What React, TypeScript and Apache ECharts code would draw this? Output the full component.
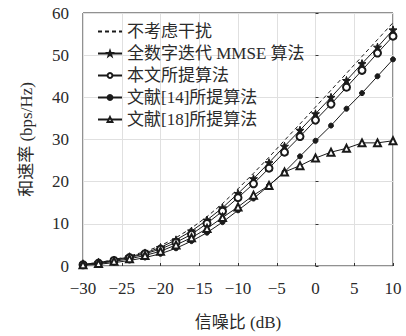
import React, { useEffect, useRef } from "react";
import * as echarts from "echarts";

const snr = [-30, -28, -26, -24, -22, -20, -18, -16, -14, -12, -10, -8, -6, -4, -2, 0, 2, 4, 6, 8, 10];
const noInterference = [0.4, 0.8, 1.5, 2.4, 3.4, 4.8, 6.7, 9.0, 11.7, 14.8, 18.3, 22.0, 25.8, 29.8, 33.7, 37.7, 41.7, 45.7, 49.7, 53.7, 57.7];
const fullDigitalMMSE = [0.4, 0.8, 1.4, 2.2, 3.1, 4.4, 6.2, 8.3, 10.9, 13.8, 17.2, 20.7, 24.5, 28.4, 32.2, 36.1, 40.0, 44.0, 48.0, 51.9, 56.0];
const proposed = [0.3, 0.7, 1.3, 2.0, 2.9, 4.0, 5.6, 7.5, 10.1, 13.0, 16.2, 19.5, 23.2, 27.0, 30.7, 34.6, 38.4, 42.4, 46.4, 50.5, 54.5];
const ref14 = [0.2, 0.4, 0.8, 1.3, 2.0, 2.9, 4.2, 5.9, 7.9, 10.4, 13.2, 16.0, 19.1, 22.3, 26.0, 29.7, 33.3, 37.3, 41.0, 45.0, 49.0];
const ref18 = [0.3, 0.6, 1.1, 1.7, 2.5, 3.5, 5.0, 6.7, 8.9, 11.5, 14.0, 16.8, 19.1, 22.3, 23.8, 25.6, 27.0, 27.9, 29.2, 29.2, 29.7];

const seriesNames = ["不考虑干扰", "全数字迭代 MMSE 算法", "本文所提算法", "文献[14]所提算法", "文献[18]所提算法"];

const FONT = "'Liberation Serif', 'DejaVu Serif', 'Noto Sans CJK SC', serif";
const STAR = "path://M0,-10 L2.35,-3.24 L9.51,-3.09 L3.8,1.24 L5.88,8.09 L0,4 L-5.88,8.09 L-3.8,1.24 L-9.51,-3.09 L-2.35,-3.24 Z";
const INK = "#1a1a1a";
const TEXT = "#2a2a2a";

const pairs = (ys: number[]) => snr.map((x, i) => [x, ys[i]]);
const minus = (v: number) => String(v).replace("-", "\u2212");

export default function App() {
  const ref = useRef<HTMLDivElement>(null);
  useEffect(() => {
    if (!ref.current) return;
    const chart = echarts.init(ref.current, null, { renderer: "svg" });
    const base = {
      type: "line",
      lineStyle: { color: INK, width: 1 },
      itemStyle: { color: INK, borderColor: INK, borderWidth: 1 },
      color: INK,
    };
    chart.setOption({
      animation: false,
      backgroundColor: "#fff",
      grid: { left: 83, right: 13, top: 13, bottom: 68, show: true, borderColor: "#222", borderWidth: 1, backgroundColor: "transparent" },
      legend: {
        orient: "vertical",
        left: 92,
        top: 18,
        itemWidth: 24,
        itemHeight: 6,
        itemGap: 5,
        textStyle: { fontFamily: FONT, fontSize: 17, color: TEXT },
        data: [
          { name: seriesNames[0], itemStyle: { color: "rgba(0,0,0,0)", borderColor: "rgba(0,0,0,0)", opacity: 0 } },
          { name: seriesNames[1] },
          { name: seriesNames[2] },
          { name: seriesNames[3] },
          { name: seriesNames[4] },
        ],
      },
      xAxis: {
        type: "value",
        min: -30,
        max: 10,
        interval: 5,
        name: "信噪比 (dB)",
        nameLocation: "middle",
        nameGap: 48,
        nameTextStyle: { fontFamily: FONT, fontSize: 17, color: TEXT },
        axisLine: { show: false },
        axisTick: { show: true, inside: true, length: 3, lineStyle: { color: "#333" } },
        axisLabel: { fontFamily: FONT, fontSize: 17, color: TEXT, margin: 14, formatter: minus },
        splitLine: { show: true, lineStyle: { color: "#e0e0e0", width: 1 } },
      },
      yAxis: {
        type: "value",
        min: 0,
        max: 60,
        interval: 10,
        name: "和速率 (bps/Hz)",
        nameLocation: "middle",
        nameGap: 48,
        nameTextStyle: { fontFamily: FONT, fontSize: 17, color: TEXT },
        axisLine: { show: false },
        axisTick: { show: true, inside: true, length: 3, lineStyle: { color: "#333" } },
        axisLabel: { fontFamily: FONT, fontSize: 17, color: TEXT, margin: 14 },
        splitLine: { show: true, lineStyle: { color: "#e0e0e0", width: 1 } },
      },
      series: [
        { ...base, name: seriesNames[0], data: pairs(noInterference), symbol: "none", lineStyle: { color: INK, width: 1, type: [4, 3] } },
        { ...base, name: seriesNames[1], data: pairs(fullDigitalMMSE), symbol: STAR, symbolSize: 8 },
        { ...base, name: seriesNames[2], data: pairs(proposed), symbol: "emptyCircle", symbolSize: 7 },
        { ...base, name: seriesNames[3], data: pairs(ref14), symbol: "circle", symbolSize: 5 },
        { ...base, name: seriesNames[4], data: pairs(ref18), symbol: "emptyTriangle", symbolSize: 7 },
      ],
    });
    return () => chart.dispose();
  }, []);
  return <div ref={ref} style={{ position: "fixed", left: 0, top: 0, width: 406, height: 336 }} />;
}
